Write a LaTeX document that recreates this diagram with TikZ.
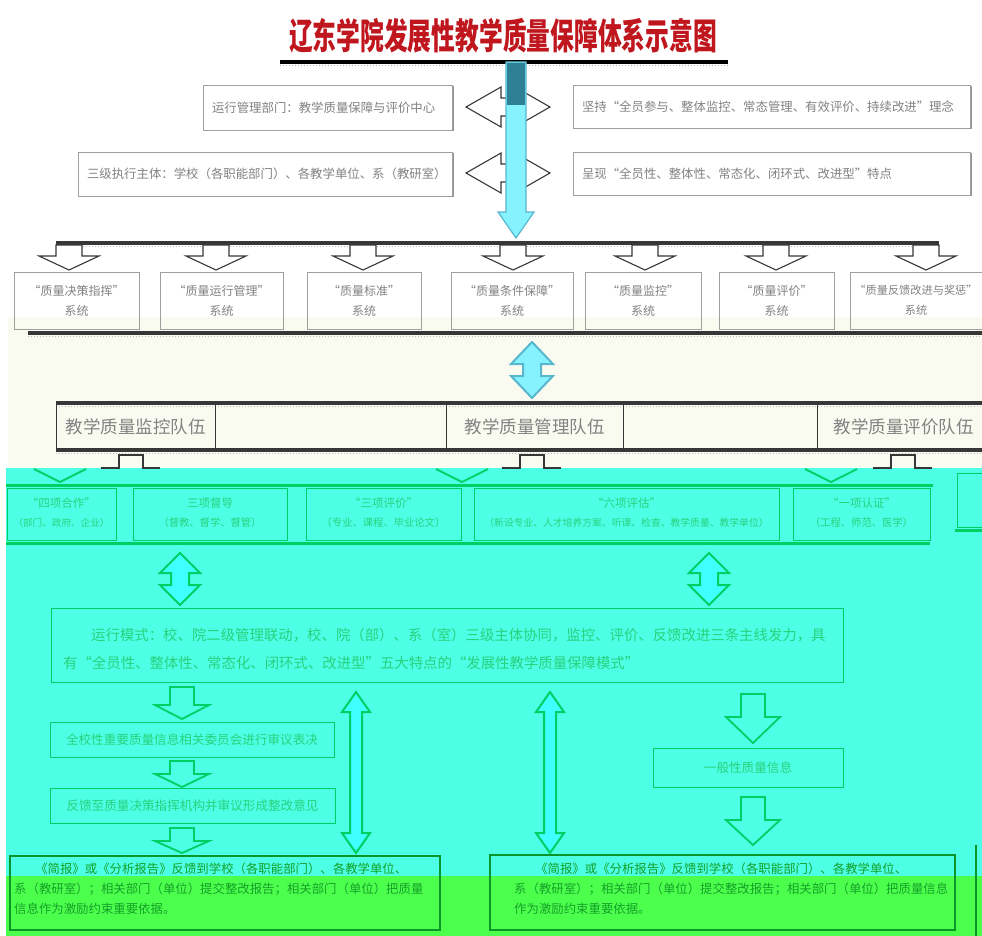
\documentclass[tikz,border=0pt]{standalone}
\usepackage{fontspec}
\setmainfont{Noto Sans CJK SC}
\usetikzlibrary{shadows}

\definecolor{titlered}{RGB}{192,22,30}
\definecolor{cream}{RGB}{250,251,240}
\definecolor{cyanbg}{RGB}{77,255,229}
\definecolor{greenbg}{RGB}{77,255,77}
\definecolor{txtgray}{RGB}{130,130,130}
\definecolor{linedark}{RGB}{55,55,55}
\definecolor{arrowcyan}{RGB}{134,242,255}
\definecolor{arrowedge}{RGB}{88,183,204}
\definecolor{arrowteal}{RGB}{47,127,151}
\definecolor{cyline}{RGB}{0,208,100}
\definecolor{cytext}{RGB}{40,210,125}
\definecolor{cyarrow}{RGB}{64,255,255}
\definecolor{grline}{RGB}{10,150,40}
\definecolor{grtext}{RGB}{20,160,40}

\newcommand\HDouble[7]{%
  \draw[#1] (#2,#4) -- (#2+#7,#4-#6) -- (#2+#7,#4-#5) -- (#3-#7,#4-#5) -- (#3-#7,#4-#6)
    -- (#3,#4) -- (#3-#7,#4+#6) -- (#3-#7,#4+#5) -- (#2+#7,#4+#5) -- (#2+#7,#4+#6) -- cycle;}
\newcommand\VDouble[7]{%
  \draw[#1] (#2,#3) -- (#2+#6,#3+#7) -- (#2+#5,#3+#7) -- (#2+#5,#4-#7) -- (#2+#6,#4-#7)
    -- (#2,#4) -- (#2-#6,#4-#7) -- (#2-#5,#4-#7) -- (#2-#5,#3+#7) -- (#2-#6,#3+#7) -- cycle;}
\newcommand\HDown[7]{%
  \draw[#1] (#2-#6,#3) -- (#2+#6,#3) -- (#2+#6,#4) -- (#2+#7,#4) -- (#2,#5)
    -- (#2-#7,#4) -- (#2-#6,#4) -- cycle;}

\tikzset{
  graybox/.style={draw=gray!75, line width=0.9pt, inner sep=0pt},
  topbox/.style={graybox, fill=white, align=left, inner xsep=9pt, text=txtgray,
    font=\fontsize{12.4}{15}\selectfont,
    drop shadow={shadow xshift=1.5pt, shadow yshift=-1.5pt, fill=black!60, opacity=0.7}},
  sysbox/.style={graybox, align=center, text=txtgray, font=\fontsize{12}{20}\selectfont},
  teambox/.style={draw=linedark, line width=0.9pt, inner sep=0pt, text=txtgray,
    font=\fontsize{17.5}{20}\selectfont},
  cybox/.style={draw=cyline, line width=1pt, inner sep=0pt, align=center, text=cytext},
  cytxt/.style={text=cytext, inner sep=0pt},
  grbox/.style={draw=grline, line width=1.4pt, inner sep=0pt},
  grtxt/.style={text=grtext, inner sep=0pt, align=left, font=\fontsize{12.4}{20}\selectfont},
  hollowtop/.style={draw=linedark, fill=white, line width=1.1pt},
  hollowcy/.style={draw=cyline, line width=1.8pt},
  cydbl/.style={draw=cyline, fill=cyarrow, line width=2pt},
  busline/.style={draw=linedark, line width=3.5pt},
  cybus/.style={draw=cyline, line width=3pt},
}

\begin{document}
\begin{tikzpicture}[x=1pt,y=-1pt]
\useasboundingbox (0,0) rectangle (982,936);
\clip (0,0) rectangle (982,936);
% background bands
\fill[white] (0,0) rectangle (982,936);
\fill[cream] (8,317) rectangle (982,468);
\fill[cyanbg] (6,468) rectangle (982,876);
\fill[greenbg] (6,876) rectangle (982,936);

% title
\node[text=titlered, font=\fontsize{36}{40}\selectfont\bfseries, xscale=0.66, inner sep=0pt] (title) at (503,36) {辽东学院发展性教学质量保障体系示意图};
\draw[black, line width=4pt] (280,62) -- (728,62);
\draw[gray!60, line width=1pt, dotted] (280,65.5) -- (728,65.5);

% side double arrows (behind the main arrow)
\HDouble{hollowtop}{466}{550}{107}{9}{20}{35}
\HDouble{hollowtop}{466}{550}{173}{9}{20}{35}

% top boxes
\node[topbox, minimum width=249pt, minimum height=45pt, text width=231pt] (opdept) at (327.5,107.5) {运行管理部门：教学质量保障与评价中心};
\node[topbox, minimum width=397pt, minimum height=43pt, text width=379pt] (idea) at (771.5,106.5) {坚持“全员参与、整体监控、常态管理、有效评价、持续改进”理念};
\node[topbox, minimum width=374pt, minimum height=44pt, text width=356pt] (exec) at (265,174) {三级执行主体：学校（各职能部门）、各教学单位、系（教研室）};
\node[topbox, minimum width=397pt, minimum height=43pt, text width=379pt] (feat) at (771.5,173.5) {呈现“全员性、整体性、常态化、闭环式、改进型”特点};

% main vertical arrow
\draw[fill=arrowcyan, draw=arrowedge, line width=1.2pt] (506,62) -- (526,62) -- (526,212) -- (534,212) -- (516,238) -- (498,212) -- (506,212) -- cycle;
\fill[arrowteal] (506.6,63) rectangle (525.4,105);

% bus line of systems
\draw[busline] (56,243) -- (939,243);
\draw[gray!55, line width=1pt, dotted] (56,246.5) -- (939,246.5);
\foreach \cx in {69,216,363,513,645,776,926}{
  \HDown{hollowtop}{\cx}{245}{256}{270}{13}{30}
}

% system boxes
\node[sysbox, minimum width=125pt, minimum height=57pt] (s1) at (76.5,300.5) {“质量决策指挥”\\系统};
\node[sysbox, minimum width=123pt, minimum height=57pt] (s2) at (221.5,300.5) {“质量运行管理”\\系统};
\node[sysbox, minimum width=114pt, minimum height=57pt] (s3) at (364,300.5) {“质量标准”\\系统};
\node[sysbox, minimum width=122pt, minimum height=57pt] (s4) at (512,300.5) {“质量条件保障”\\系统};
\node[sysbox, minimum width=116pt, minimum height=57pt] (s5) at (643,300.5) {“质量监控”\\系统};
\node[sysbox, minimum width=115pt, minimum height=57pt] (s6) at (776.5,300.5) {“质量评价”\\系统};
\node[sysbox, minimum width=132pt, minimum height=57pt, font=\fontsize{11.2}{20}\selectfont] (s7) at (916,300.5) {“质量反馈改进与奖惩”\\系统};
\draw[busline] (28,333) -- (982,333);
\draw[gray!55, line width=1pt, dotted] (28,336.5) -- (982,336.5);

% double arrow between systems and teams
\VDouble{fill=arrowcyan, draw=arrowedge, line width=2pt}{532}{342}{398}{9}{21}{22}

% teams band
\draw[busline] (56,403) -- (982,403);
\draw[busline] (56,450) -- (982,450);
\draw[gray!55, line width=1pt, dotted] (56,406.5) -- (982,406.5);
\draw[gray!55, line width=1pt, dotted] (56,453.5) -- (982,453.5);
\node[teambox, minimum width=159pt, minimum height=45pt] (t1) at (135.5,426.5) {教学质量监控队伍};
\node[teambox, minimum width=177pt, minimum height=45pt] (t2) at (534.5,426.5) {教学质量管理队伍};
\node[teambox, minimum width=173pt, minimum height=45pt] (t3) at (903.5,426.5) {教学质量评价队伍};

% arrow stubs under teams
\foreach \cx in {131,532,903}{
  \draw[linedark, line width=1.2pt] (\cx-30,468) -- (\cx-12,468) -- (\cx-12,455) -- (\cx+12,455) -- (\cx+12,468) -- (\cx+29,468);
}
\foreach \cx in {60,462,831}{
  \draw[cyline, line width=1.8pt] (\cx-26,469) -- (\cx,482) -- (\cx+26,469);
}

% cyan row of work items
\draw[cybus] (6,485) -- (933,485);
\node[cybox, minimum width=109pt, minimum height=52pt] (w1) at (61.5,514) {};
\node[cybox, minimum width=154pt, minimum height=52pt] (w2) at (210,514) {};
\node[cybox, minimum width=155pt, minimum height=52pt] (w3) at (383.5,514) {};
\node[cybox, minimum width=305pt, minimum height=52pt] (w4) at (626.5,514) {};
\node[cybox, minimum width=137pt, minimum height=52pt] (w5) at (861.5,514) {};
\node[cybox, minimum width=40pt, minimum height=54pt] (w6) at (977,500) {};
\draw[cybus] (6,543) -- (930,543);
\draw[cybus] (955,530) -- (982,530);
\node[cytxt, font=\fontsize{11.5}{13}\selectfont] (w1a) at (61.5,503) {“四项合作”};
\node[cytxt, font=\fontsize{9.6}{12}\selectfont] (w1b) at (61.5,523) {（部门、政府、企业）};
\node[cytxt, font=\fontsize{11.5}{13}\selectfont] (w2a) at (210,503) {三项督导};
\node[cytxt, font=\fontsize{10.3}{12}\selectfont] (w2b) at (210,523) {（督教、督学、督管）};
\node[cytxt, font=\fontsize{11.5}{13}\selectfont] (w3a) at (383.5,503) {“三项评价”};
\node[cytxt, font=\fontsize{10.3}{12}\selectfont] (w3b) at (383.5,523) {（专业、课程、毕业论文）};
\node[cytxt, font=\fontsize{11.5}{13}\selectfont] (w4a) at (626.5,503) {“六项评估”};
\node[cytxt, font=\fontsize{9.8}{12}\selectfont] (w4b) at (626.5,523) {（新设专业、人才培养方案、听课、检查、教学质量、教学单位）};
\node[cytxt, font=\fontsize{11.5}{13}\selectfont] (w5a) at (861.5,503) {“一项认证”};
\node[cytxt, font=\fontsize{10.3}{12}\selectfont] (w5b) at (861.5,523) {（工程、师范、医学）};

% double arrows to the mode box
\VDouble{cydbl}{180}{553}{605}{9}{20}{20}
\VDouble{cydbl}{709}{553}{605}{9}{20}{20}

% mode box
\node[cybox, minimum width=792pt, minimum height=74pt] (mode) at (447,645) {};
\node[cytxt, anchor=west, font=\fontsize{14.4}{17}\selectfont] (model1) at (91,635) {运行模式：校、院二级管理联动，校、院（部）、系（室）三级主体协同，监控、评价、反馈改进三条主线发力，具};
\node[cytxt, anchor=west, font=\fontsize{14.4}{17}\selectfont] (model2) at (63,663) {有“全员性、整体性、常态化、闭环式、改进型”五大特点的“发展性教学质量保障模式”};

% left column
\HDown{hollowcy}{182}{687}{705}{719}{12}{27}
\node[cybox, minimum width=284pt, minimum height=35pt, font=\fontsize{12.6}{15}\selectfont] (vote) at (192,739.5) {全校性重要质量信息相关委员会进行审议表决};
\HDown{hollowcy}{182}{761}{774}{787}{12}{27}
\node[cybox, minimum width=285pt, minimum height=35pt, font=\fontsize{12.6}{15}\selectfont] (back) at (192.5,805.5) {反馈至质量决策指挥机构并审议形成整改意见};
\HDown{hollowcy}{182}{828}{841}{853}{12}{27}

% right column
\HDown{hollowcy}{753}{694}{717}{743}{12}{27}
\node[cybox, minimum width=190pt, minimum height=39pt, font=\fontsize{12.6}{15}\selectfont] (gen) at (748,767.5) {一般性质量信息};
\HDown{hollowcy}{753}{797}{820}{845}{12}{27}

% tall double arrows
\VDouble{cydbl}{356}{692}{853}{6}{14}{20}
\VDouble{cydbl}{550}{692}{853}{6}{14}{20}

% bottom boxes
\node[grbox, minimum width=430pt, minimum height=74pt] (repl) at (225,893) {};
\node[grtxt, anchor=north west] (repltxt) at (14,863) {\hspace*{1.7em}《简报》或《分析报告》反馈到学校（各职能部门）、各教学单位、\\系（教研室）；相关部门（单位）提交整改报告；相关部门（单位）把质量\\信息作为激励约束重要依据。};
\node[grbox, minimum width=465pt, minimum height=75pt] (repr) at (722.5,892.5) {};
\node[grtxt, anchor=north west] (reprtxt) at (514,863) {\hspace*{1.7em}《简报》或《分析报告》反馈到学校（各职能部门）、各教学单位、\\系（教研室）；相关部门（单位）提交整改报告；相关部门（单位）把质量信息\\作为激励约束重要依据。};
\draw[grline, line width=1.4pt] (976,845) -- (976,936);
\end{tikzpicture}
\end{document}
